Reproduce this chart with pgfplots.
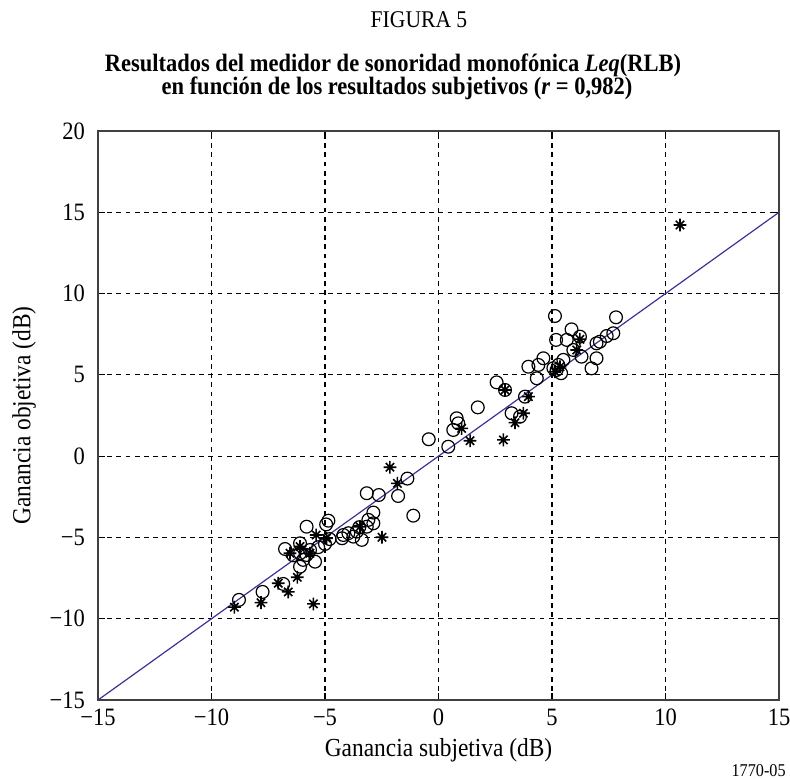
\documentclass[border=0pt]{standalone}
\usepackage{fontspec}
\setmainfont{Liberation Serif}[FakeStretch=0.9]
\usepackage{pgfplots}
\pgfplotsset{compat=1.18}

% matlab style asterisk: + and x
\pgfdeclareplotmark{mstar}{%
  \pgfpathmoveto{\pgfpoint{-\pgfplotmarksize}{0pt}}\pgfpathlineto{\pgfpoint{\pgfplotmarksize}{0pt}}%
  \pgfpathmoveto{\pgfpoint{0pt}{-\pgfplotmarksize}}\pgfpathlineto{\pgfpoint{0pt}{\pgfplotmarksize}}%
  \pgfpathmoveto{\pgfpoint{-0.65\pgfplotmarksize}{-0.65\pgfplotmarksize}}\pgfpathlineto{\pgfpoint{0.65\pgfplotmarksize}{0.65\pgfplotmarksize}}%
  \pgfpathmoveto{\pgfpoint{-0.65\pgfplotmarksize}{0.65\pgfplotmarksize}}\pgfpathlineto{\pgfpoint{0.65\pgfplotmarksize}{-0.65\pgfplotmarksize}}%
  \pgfusepathqstroke}

\definecolor{linea}{RGB}{60,50,150}

\begin{document}
\begin{tikzpicture}
\begin{axis}[
    scale only axis, width=340.5pt, height=284.5pt,
    xmin=-15, xmax=15, ymin=-15, ymax=20,
    xtick={-15,-10,...,15}, ytick={-15,-10,...,20},
    xticklabels={−15,−10,−5,0,5,10,15},
    yticklabels={−15,−10,−5,0,5,10,15,20},
    grid=major,
    major grid style={black, dash pattern=on 2.4pt off 2.2pt, line width=0.6pt},
    tick align=inside, tick pos=both, major tick length=3.5pt,
    tick style={black, line width=0.6pt},
    axis line style={black!75, line width=0.9pt},
    tick label style={font=\fontsize{12.5}{14}\selectfont},
    xticklabel style={yshift=-1pt}, yticklabel style={xshift=-3pt},
]
\addplot[linea, line width=0.6pt, no marks] coordinates {(-15,-15) (15,15)};

% circles
\addplot[only marks, mark=o, mark size=3.2pt, mark options={black, line width=0.6pt}] coordinates {
(-0.43,1.04) (-1.37,-1.38) (-1.78,-2.45) (-1.11,-3.66) (-3.16,-2.28) (-2.63,-2.39)
(-2.87,-3.47) (-3.09,-3.92) (-3.16,-4.34) (-2.87,-4.13) (-4.85,-3.97) (-4.95,-4.2)
(-5.81,-4.34) (-6.76,-5.71) (-6.1,-5.36) (-6.1,-5.97) (-5.96,-6.38) (-5.66,-5.77)
(-5.81,-6.08) (-5.44,-6.49) (-6.1,-6.8) (-4.19,-4.85) (-4.25,-5.05) (-3.97,-4.74)
(-3.75,-4.95) (-3.6,-4.64) (-3.49,-4.37) (-3.38,-5.15) (-6.84,-7.86) (-7.75,-8.35)
(-8.79,-8.84) (-5.0,-5.4) (-4.8,-5.1) (-6.4,-6.1) (-5.3,-5.6)
(0.43,0.58) (0.65,1.61) (0.8,2.33) (0.87,2.02) (1.73,3.0) (2.56,4.54) (2.93,4.07)
(3.22,2.64) (3.59,2.43) (3.81,3.66) (3.96,5.5) (4.33,4.79) (4.62,6.02) (4.4,5.61)
(5.13,8.62) (5.18,7.15) (5.86,7.8) (5.65,7.15) (6.23,7.35) (6.3,6.12) (5.94,6.53)
(6.96,6.94) (6.96,6.02) (6.74,5.4) (7.41,7.39) (7.7,7.56) (7.11,7.04) (7.82,8.54)
(5.06,5.41) (5.28,5.61) (5.5,5.92) (5.2,5.3) (5.4,5.1)
};

% asterisks
\addplot[only marks, mark=mstar, mark size=3.2pt, mark options={black, line width=0.8pt}] coordinates {
(-2.14,-0.68) (-1.81,-1.67) (-2.49,-4.99) (-5.39,-4.85) (-4.93,-5.05) (-6.54,-5.97)
(-5.66,-5.97) (-6.1,-5.56) (-6.22,-7.45) (-7.06,-7.82) (-6.62,-8.35) (-7.82,-9.01)
(-8.99,-9.29) (-5.51,-9.09) (-3.46,-4.34)
(1.02,1.71) (1.39,0.95) (2.86,1.0) (3.37,2.06) (3.74,2.64) (3.96,3.66) (2.93,4.07)
(5.13,5.2) (5.35,5.5) (6.09,6.53) (6.23,7.19) (10.64,14.22)
};
\end{axis}

\node[font=\fontsize{12}{14}\selectfont] at (160.5pt,340pt) {FIGURA 5};
\node[font=\bfseries\fontsize{12.5}{14}\selectfont] at (147.5pt,317.5pt)
  {Resultados del medidor de sonoridad monofónica \textit{Leq}(RLB)};
\node[font=\bfseries\fontsize{12.5}{14}\selectfont] at (149.5pt,306pt)
  {en función de los resultados subjetivos (\textit{r} = 0,982)};
\node[font=\fontsize{13}{15}\selectfont] at (170.25pt,-25pt) {Ganancia subjetiva (dB)};
\node[rotate=90, font=\fontsize{13}{15}\selectfont] at (-37pt,142.25pt) {Ganancia objetiva (dB)};
\node[anchor=south east, inner sep=0pt, font=\fontsize{9}{10}\selectfont] at (344pt,-38.5pt) {1770-05};

\pgfresetboundingbox
\path[use as bounding box] (-49pt,-39pt) rectangle (346pt,350pt);
\end{tikzpicture}
\end{document}
